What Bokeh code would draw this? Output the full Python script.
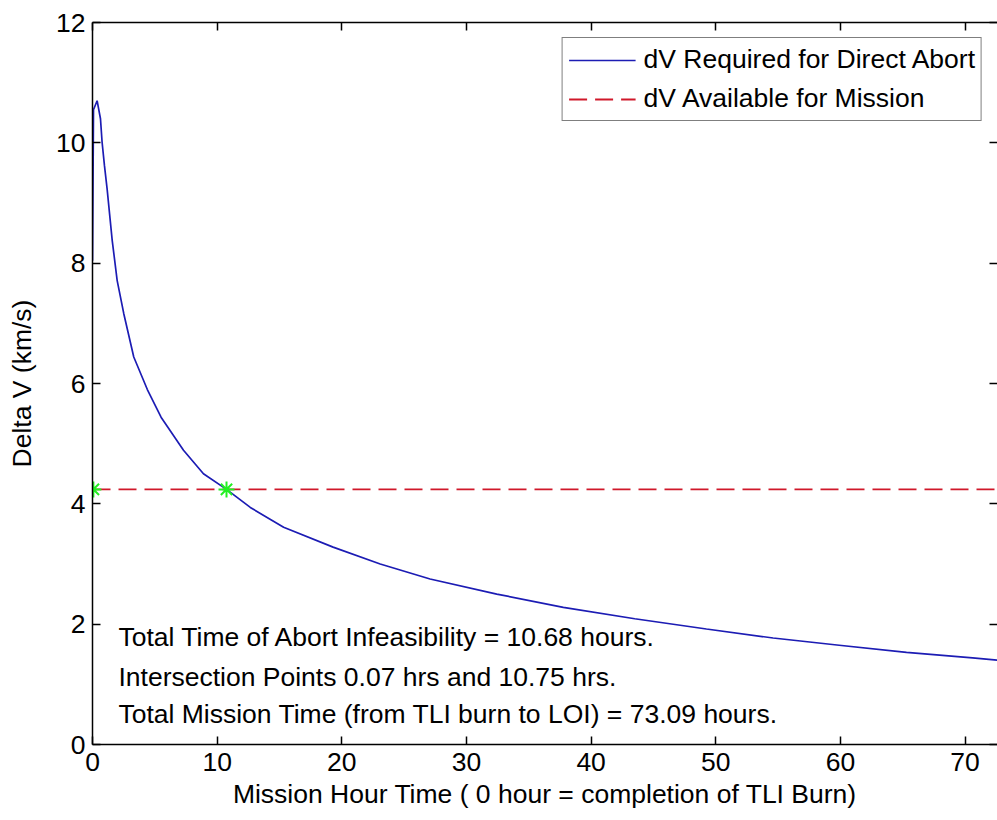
from bokeh.plotting import figure
from bokeh.models import LinearAxis, Legend, LegendItem, Label, FixedTicker, Range1d
from bokeh.embed import file_html
from bokeh.resources import INLINE

# ---- data ----
hours = [0, 0.08, 0.37, 0.64, 0.77, 0.96, 1.17, 1.58, 1.98, 2.51, 3.31, 4.4, 5.5,
         7.3, 8.9, 10.75, 12.66, 15.33, 19.3, 23.08, 27.08, 32.43, 37.77, 43.5,
         49.25, 54.6, 59.9, 65.3, 70.6, 73.09]
dv_required = [8.04, 10.55, 10.70, 10.40, 10.01, 9.62, 9.24, 8.38, 7.71, 7.16, 6.44,
               5.90, 5.44, 4.89, 4.50, 4.24, 3.94, 3.61, 3.28, 3.00, 2.75, 2.50,
               2.28, 2.09, 1.92, 1.77, 1.65, 1.53, 1.44, 1.39]
dv_available = 4.24
mission_time = [0, 73.09]
intersect_hours = [0.07, 10.75]
x_ticks = [0, 10, 20, 30, 40, 50, 60, 70]
y_ticks = [0, 2, 4, 6, 8, 10, 12]
notes = [
    "Total Time of Abort Infeasibility = 10.68 hours.",
    "Intersection Points 0.07 hrs and 10.75 hrs.",
    "Total Mission Time (from TLI burn to LOI) = 73.09 hours.",
]
note_y = [1.78, 1.13, 0.51]

FONT = "Liberation Sans"
FS = "26.5px"

p = figure(width=997, height=820, output_backend="svg", toolbar_location=None,
           x_range=Range1d(0, 72.6), y_range=Range1d(0, 12),
           min_border_left=92, min_border_top=22, min_border_bottom=76,
           min_border_right=0)
p.grid.visible = False
p.outline_line_color = None
p.background_fill_color = "white"
p.border_fill_color = "white"

def style_axis(ax, labels=True):
    ax.major_tick_in = 8
    ax.major_tick_out = 0
    ax.minor_tick_in = 0
    ax.minor_tick_out = 0
    ax.axis_line_color = "black"
    ax.major_tick_line_color = "black"
    ax.axis_line_width = 1.5
    ax.major_tick_line_width = 1.5
    ax.major_label_text_font = FONT
    ax.axis_label_text_font = FONT
    ax.axis_label_text_font_style = "normal"
    ax.axis_label_text_font_size = FS
    ax.axis_label_text_color = "black"
    if labels:
        ax.major_label_text_font_size = FS
        ax.major_label_text_color = "black"
    else:
        ax.major_label_text_font_size = "1px"
        ax.major_label_text_color = None
        ax.major_label_standoff = 0

p.xaxis.ticker = FixedTicker(ticks=x_ticks)
p.yaxis.ticker = FixedTicker(ticks=y_ticks)
style_axis(p.xaxis[0])
style_axis(p.yaxis[0])
p.xaxis.axis_label = "Mission Hour Time ( 0 hour = completion of TLI Burn)"
p.yaxis.axis_label = "Delta V (km/s)"
p.xaxis.major_label_standoff = 8
p.xaxis.axis_label_standoff = 5
p.yaxis.major_label_standoff = 7
p.yaxis.axis_label_standoff = 16

top_ax = LinearAxis(ticker=FixedTicker(ticks=x_ticks))
style_axis(top_ax, labels=False)
p.add_layout(top_ax, "above")
right_ax = LinearAxis(ticker=FixedTicker(ticks=y_ticks))
style_axis(right_ax, labels=False)
right_ax.axis_line_color = None
p.add_layout(right_ax, "right")

r_req = p.line(hours, dv_required, line_color="#1c1cb4", line_width=1.7)
r_av = p.line(mission_time, [dv_available, dv_available], line_color="#d0182a",
              line_width=1.8, line_dash="18 8")
p.scatter(intersect_hours, [dv_available] * len(intersect_hours), marker="asterisk",
          size=16, line_color="#22f022", line_width=2)

legend = Legend(items=[LegendItem(label="dV Required for Direct Abort", renderers=[r_req]),
                       LegendItem(label="dV Available for Mission", renderers=[r_av])],
                location="top_right")
legend.margin = 15
legend.padding = 6
legend.spacing = 8
legend.glyph_width = 67
legend.label_standoff = 8
legend.label_text_font = FONT
legend.label_text_font_size = FS
legend.label_text_color = "black"
legend.border_line_color = "black"
legend.border_line_width = 1.2
legend.background_fill_color = "white"
legend.background_fill_alpha = 1.0
p.add_layout(legend)

for t, yv in zip(notes, note_y):
    p.add_layout(Label(x=2.08, y=yv, text=t, text_font=FONT, text_font_size=FS,
                       text_color="black", text_baseline="alphabetic"))

open("out.html", "w").write(file_html(p, INLINE))
